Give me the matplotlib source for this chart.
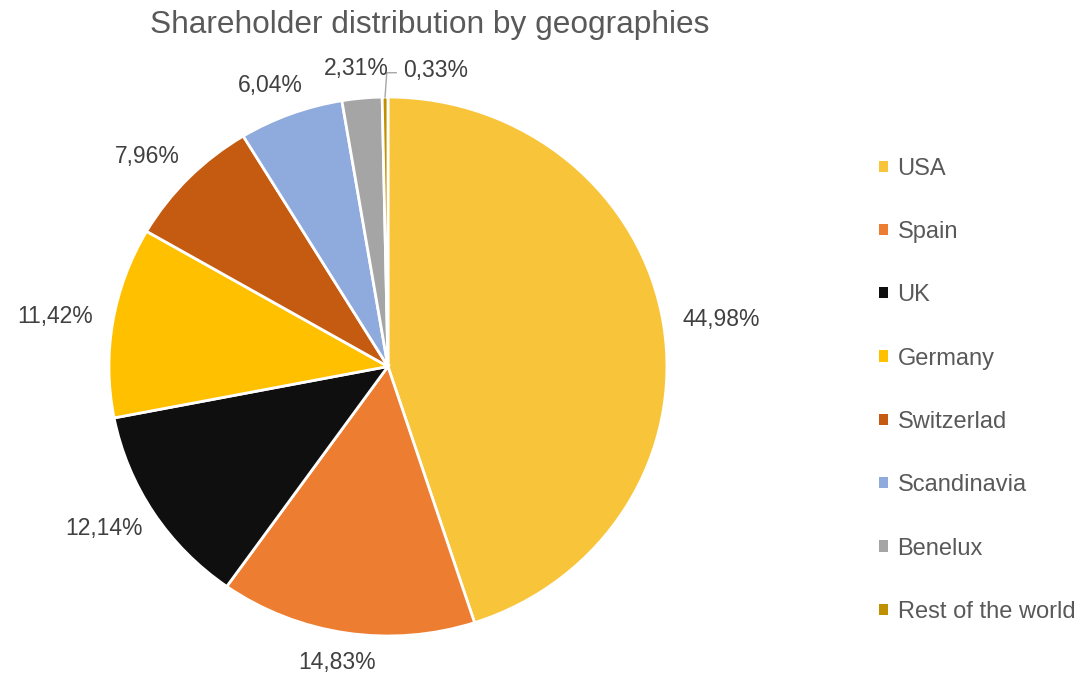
import numpy as np
import matplotlib
matplotlib.use("Agg")
import matplotlib.pyplot as plt
from matplotlib.patches import Patch

regions = ["USA", "Spain", "UK", "Germany", "Switzerlad", "Scandinavia",
           "Benelux", "Rest of the world"]
shares = [44.98, 14.83, 12.14, 11.42, 7.96, 6.04, 2.31, 0.33]
colors = ["#F8C43A", "#ED7D31", "#0F0F0F", "#FFC000", "#C55A11", "#8FAADC",
          "#A5A5A5", "#BF9000"]

plt.rcParams['font.family'] = ['Liberation Sans', 'DejaVu Sans']

fig = plt.figure(figsize=(10.82, 6.74), dpi=100)
ax = fig.add_axes([0.1007, 0.0564, 0.5157, 0.7997])

wedges, _ = ax.pie(shares, colors=colors, startangle=90, counterclock=False,
                   wedgeprops=dict(edgecolor="white", linewidth=2))
ax.set_aspect('auto')
ax.set_xlim(-1, 1)
ax.set_ylim(-1, 1)

# pixel size of the pie box, for placing label boxes outside the edge
rx, ry = 279.0, 270.0
lab_w, lab_h = 78.0, 22.0

def fmt(v):
    return ("%.2f%%" % v).replace(".", ",")

for w, v in zip(wedges[:-1], shares[:-1]):
    ang = np.deg2rad((w.theta1 + w.theta2) / 2)
    c, s = np.cos(ang), np.sin(ang)
    x = 1.07 * c + (lab_w / 2) * c / rx
    y = 1.07 * s + (lab_h / 2) * s / ry
    ax.text(x, y, fmt(v), ha="center", va="center", fontsize=16.5,
            color="#404040")

# smallest slice: label with a leader line
w = wedges[-1]
ang = np.deg2rad((w.theta1 + w.theta2) / 2)
ex, ey = np.cos(ang), np.sin(ang)
ly = 1.09
tx = ex + 0.065
ax.plot([ex, ex + 0.006, tx - 0.025], [ey, ly, ly], color="#A6A6A6",
        linewidth=1, clip_on=False)
ax.text(tx, ly + 0.01, fmt(shares[-1]), ha="left", va="center",
        fontsize=16.5, color="#404040")

fig.text(0.397, 0.963, "Shareholder distribution by geographies",
         ha="center", va="center", fontsize=22.8, color="#595959")

handles = [Patch(facecolor=col, edgecolor="none") for col in colors]
fig.legend(handles, regions, loc="center left", bbox_to_anchor=(0.8125, 0.421),
           frameon=False, fontsize=17, handlelength=0.36, handleheight=0.36,
           handletextpad=0.42, labelspacing=1.75, borderpad=0,
           borderaxespad=0, labelcolor="#595959")

fig.savefig("out.png", dpi=100)
